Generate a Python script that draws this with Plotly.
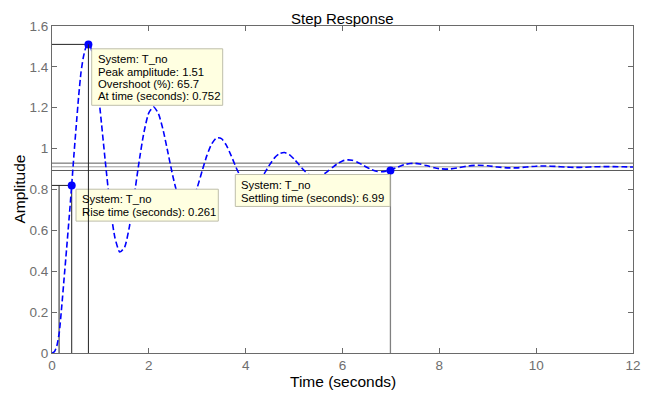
import plotly.graph_objects as go

# ---------------- data ----------------
time_s = [0.00, 0.05, 0.10, 0.15, 0.20, 0.25, 0.30, 0.35, 0.40, 0.45, 0.50, 0.55,
          0.60, 0.65, 0.70, 0.752, 0.80, 0.85, 0.90, 0.95,
          1.0, 1.1, 1.2, 1.3, 1.4, 1.5, 1.6, 1.7, 1.8, 1.9,
          2.0, 2.1, 2.2, 2.3, 2.4, 2.5, 2.6, 2.7, 2.8, 2.9,
          3.0, 3.1, 3.2, 3.3, 3.4, 3.5, 3.6, 3.7, 3.8, 3.9,
          4.0, 4.1, 4.2, 4.3, 4.4, 4.5, 4.6, 4.7, 4.8, 4.9,
          5.0, 5.1, 5.2, 5.3, 5.4, 5.5, 5.6, 5.7, 5.8, 5.9,
          6.0, 6.1, 6.2, 6.3, 6.4, 6.5, 6.6, 6.7, 6.8, 6.9,
          7.0, 7.1, 7.2, 7.3, 7.4, 7.5, 7.6, 7.7, 7.8, 7.9,
          8.0, 8.2, 8.4, 8.6, 8.8, 9.0, 9.2, 9.4, 9.6, 9.8,
          10.0, 10.2, 10.4, 10.6, 10.8, 11.0, 11.2, 11.4, 11.6, 11.8, 12.0]
amplitude = [0.000, 0.006, 0.035, 0.100, 0.225, 0.365, 0.505, 0.650, 0.800, 0.960, 1.110, 1.255,
             1.375, 1.450, 1.495, 1.510, 1.495, 1.450, 1.378, 1.284,
             1.175, 0.939, 0.720, 0.564, 0.494, 0.518, 0.620, 0.773, 0.938, 1.081,
             1.175, 1.204, 1.170, 1.086, 0.974, 0.861, 0.769, 0.716, 0.708, 0.743,
             0.810, 0.890, 0.967, 1.024, 1.053, 1.049, 1.017, 0.966, 0.909, 0.859,
             0.824, 0.811, 0.819, 0.846, 0.884, 0.923, 0.956, 0.976, 0.981, 0.971,
             0.949, 0.922, 0.895, 0.874, 0.863, 0.863, 0.873, 0.890, 0.909, 0.927,
             0.940, 0.945, 0.943, 0.935, 0.922, 0.909, 0.897, 0.889, 0.887, 0.890,
             0.897, 0.906, 0.915, 0.923, 0.927, 0.928, 0.925, 0.919, 0.913, 0.906,
             0.902, 0.900, 0.907, 0.915, 0.919, 0.916, 0.910, 0.906, 0.906, 0.910,
             0.914, 0.915, 0.913, 0.910, 0.908, 0.909, 0.911, 0.912, 0.912, 0.911, 0.910]

system_name = "T_no"
peak_time = 0.752
peak_amp = 1.51
overshoot_pct = 65.7
rise_time = 0.261
rise_start = 0.146
rise_end = 0.407
rise_amp = 0.82
settle_time = 6.99
settle_amp = 0.893
final_value = 0.911
band_low = 0.893
band_high = 0.929

x_ticks = [0, 2, 4, 6, 8, 10, 12]
y_ticks = [0, 0.2, 0.4, 0.6, 0.8, 1.0, 1.2, 1.4, 1.6]
y_tick_text = ["0", "0.2", "0.4", "0.6", "0.8", "1", "1.2", "1.4", "1.6"]

# ---------------- geometry (window pixels; page body has an 8px margin) ----------------
OFF = 8
WIN_W, WIN_H = 652, 398
W, H = WIN_W - OFF, WIN_H - OFF
PLOT_L, PLOT_R, PLOT_T, PLOT_B = 52, 633, 19, 353      # plot area in window pixels
ML, MR, MT, MB = PLOT_L - OFF, WIN_W - PLOT_R, PLOT_T - OFF, WIN_H - PLOT_B
PW, PH = PLOT_R - PLOT_L, PLOT_B - PLOT_T


def px(xp):
    return (xp - PLOT_L) / PW


def py(yp):
    return (PLOT_B - yp) / PH


FONT = "Liberation Sans, Arial, Helvetica, sans-serif"
BLUE = "#0000FF"
TICK_GRAY = "#6e6e6e"

fig = go.Figure()

# settling band & steady-state lines
for v, c in [(band_high, "#5a5a5a"), (final_value, "#9a9a9a"), (band_low, "#5a5a5a")]:
    fig.add_trace(go.Scatter(x=[x_ticks[0], x_ticks[-1]], y=[v, v], mode="lines",
                             line=dict(color=c, width=1), hoverinfo="skip", showlegend=False))

# peak characteristic horizontal line
fig.add_trace(go.Scatter(x=[0, peak_time], y=[peak_amp, peak_amp], mode="lines",
                         line=dict(color="#222222", width=1), showlegend=False))
# rise time lines
fig.add_trace(go.Scatter(x=[0, rise_end], y=[rise_amp, rise_amp], mode="lines",
                         line=dict(color="#222222", width=1), showlegend=False))
fig.add_trace(go.Scatter(x=[rise_start, rise_start], y=[0, rise_amp], mode="lines",
                         line=dict(color="#222222", width=1), showlegend=False))
fig.add_trace(go.Scatter(x=[rise_end, rise_end], y=[0, rise_amp], mode="lines",
                         line=dict(color="#222222", width=1), showlegend=False))
# settling vertical line
fig.add_trace(go.Scatter(x=[settle_time, settle_time], y=[0, settle_amp], mode="lines",
                         line=dict(color="#808080", width=1.3), showlegend=False))

# step response curve
fig.add_trace(go.Scatter(x=time_s, y=amplitude, mode="lines",
                         line=dict(color=BLUE, width=1.6, dash="6px,3px", shape="spline", smoothing=0.6),
                         showlegend=False))

# characteristic markers
fig.add_trace(go.Scatter(x=[peak_time, rise_end, settle_time], y=[peak_amp, rise_amp, settle_amp],
                         mode="markers", marker=dict(color=BLUE, size=8, line=dict(width=0)),
                         showlegend=False))

# data-tip boxes (window-pixel extents)
boxes = [(91.7, 42.3, 222.7, 100.0), (76.0, 185.7, 218.3, 218.3), (235.3, 170.7, 390.0, 203.3)]
shapes = []
for (x0, y0, x1, y1) in boxes:
    shapes.append(dict(type="rect", xref="paper", yref="paper",
                       x0=px(x0), x1=px(x1), y0=py(y1), y1=py(y0),
                       fillcolor="#FFFFE1", line=dict(color="#BEBEAA", width=1), layer="above"))
# peak vertical line drawn over the boxes
shapes.append(dict(type="line", xref="x", yref="y", x0=peak_time, x1=peak_time, y0=0, y1=peak_amp,
                   line=dict(color="#222222", width=1), layer="above"))

tips = [
    (96.0, [53.0, 65.5, 78.0, 90.5],
     [f"System: {system_name}", f"Peak amplitude: {peak_amp}",
      f"Overshoot (%): {overshoot_pct}", f"At time (seconds): {peak_time}"]),
    (79.5, [196.0, 209.0],
     [f"System: {system_name}", f"Rise time (seconds): {rise_time}"]),
    (239.0, [181.7, 194.2],
     [f"System: {system_name}", f"Settling time (seconds): {settle_time}"]),
]
annotations = []
for (xl, ys, lines) in tips:
    for yy, txt in zip(ys, lines):
        annotations.append(dict(xref="paper", yref="paper", x=px(xl), y=py(yy),
                                xanchor="left", yanchor="middle", showarrow=False, text=txt,
                                font=dict(family=FONT, size=11.3, color="#000000")))

# titles
annotations.append(dict(xref="paper", yref="paper", x=px(342.5), y=py(11), text="Step Response",
                        showarrow=False, xanchor="center", yanchor="middle",
                        font=dict(family=FONT, size=15, color="#000000")))
annotations.append(dict(xref="paper", yref="paper", x=px(343), y=py(382), text="Time (seconds)",
                        showarrow=False, xanchor="center", yanchor="middle",
                        font=dict(family=FONT, size=15.5, color="#000000")))
annotations.append(dict(xref="paper", yref="paper", x=px(19), y=py(186), text="Amplitude",
                        showarrow=False, xanchor="center", yanchor="middle", textangle=-90,
                        font=dict(family=FONT, size=15.5, color="#000000")))

axis_common = dict(showgrid=False, zeroline=False, showline=True, linecolor="#6a6a6a", linewidth=1,
                   mirror="allticks", ticks="inside", ticklen=5, tickcolor="#6a6a6a",
                   tickfont=dict(family=FONT, size=13.5, color=TICK_GRAY))

fig.update_layout(
    width=W, height=H,
    margin=dict(l=ML, r=MR, t=MT, b=MB, pad=0),
    paper_bgcolor="white", plot_bgcolor="white",
    xaxis=dict(range=[x_ticks[0], x_ticks[-1]], tickvals=x_ticks, ticktext=[str(v) for v in x_ticks],
               **axis_common),
    yaxis=dict(range=[y_ticks[0], y_ticks[-1]], tickvals=y_ticks, ticktext=y_tick_text, **axis_common),
    shapes=shapes,
    annotations=annotations,
    showlegend=False,
)

fig.write_html("out.html", config={"displayModeBar": False})
